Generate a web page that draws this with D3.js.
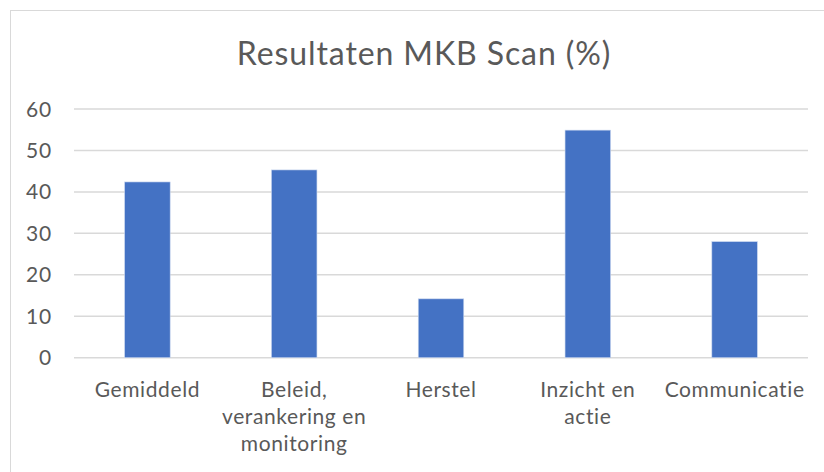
<!DOCTYPE html>
<html>
<head>
<meta charset="utf-8">
<script src="https://cdn.jsdelivr.net/npm/d3@7"></script>
<style>
  body { margin: 0; background: #fff; }
  text { font-family: Lato, "Open Sans", sans-serif; fill: #595959; }
</style>
</head>
<body>
<svg width="824" height="472"></svg>
<script>
const categories = ['Gemiddeld', 'Beleid, verankering en monitoring', 'Herstel', 'Inzicht en actie', 'Communicatie'];
const labelLines = [['Gemiddeld'], ['Beleid,', 'verankering en', 'monitoring'], ['Herstel'], ['Inzicht en', 'actie'], ['Communicatie']];
const values = [42.4, 45.3, 14.2, 54.9, 28.0];
const yTicks = [0, 10, 20, 30, 40, 50, 60];
const title = 'Resultaten MKB Scan (%)';

const svg = d3.select('svg');

// chart frame
svg.append('rect')
  .attr('x', 10.5).attr('y', 10.5)
  .attr('width', 840).attr('height', 480)
  .attr('fill', 'none')
  .attr('stroke', '#d9d9d9');

const plotLeft = 74, plotRight = 808, plotTop = 109, plotBottom = 357.7;

const x = d3.scaleBand()
  .domain(categories)
  .range([plotLeft, plotRight])
  .paddingInner(0.69)
  .paddingOuter(0.345);

const y = d3.scaleLinear()
  .domain([0, 60])
  .range([plotBottom, plotTop]);

// gridlines
svg.append('g')
  .selectAll('line')
  .data(yTicks)
  .enter()
  .append('line')
  .attr('x1', plotLeft).attr('x2', plotRight)
  .attr('y1', d => y(d)).attr('y2', d => y(d))
  .attr('stroke', '#d9d9d9')
  .attr('stroke-width', 1.5);

// y labels
svg.append('g')
  .selectAll('text')
  .data(yTicks)
  .enter()
  .append('text')
  .attr('x', 52)
  .attr('y', d => y(d))
  .attr('dy', '0.36em')
  .attr('text-anchor', 'end')
  .style('font-size', '21px')
  .style('letter-spacing', '0.8px')
  .text(d => d);

// bars
svg.append('g')
  .selectAll('rect')
  .data(values)
  .enter()
  .append('rect')
  .attr('x', (d, i) => x(categories[i]))
  .attr('width', x.bandwidth())
  .attr('y', d => y(d))
  .attr('height', d => y(0) - y(d))
  .attr('fill', '#4472c4')
  .attr('stroke', '#c9d6ee')
  .attr('stroke-width', 0.6);

// x labels
const xl = svg.append('g')
  .selectAll('text')
  .data(labelLines)
  .enter()
  .append('text')
  .attr('text-anchor', 'middle')
  .style('font-size', '21px')
  .style('letter-spacing', '0.6px')
  .attr('transform', (d, i) => `translate(${x(categories[i]) + x.bandwidth() / 2},397)`);

xl.selectAll('tspan')
  .data(d => d)
  .enter()
  .append('tspan')
  .attr('x', 0)
  .attr('y', (d, i) => i * 27)
  .text(d => d);

// title
svg.append('text')
  .attr('x', 424)
  .attr('y', 65)
  .attr('text-anchor', 'middle')
  .style('font-size', '32px')
  .style('letter-spacing', '0.9px')
  .text(title);
</script>
</body>
</html>
